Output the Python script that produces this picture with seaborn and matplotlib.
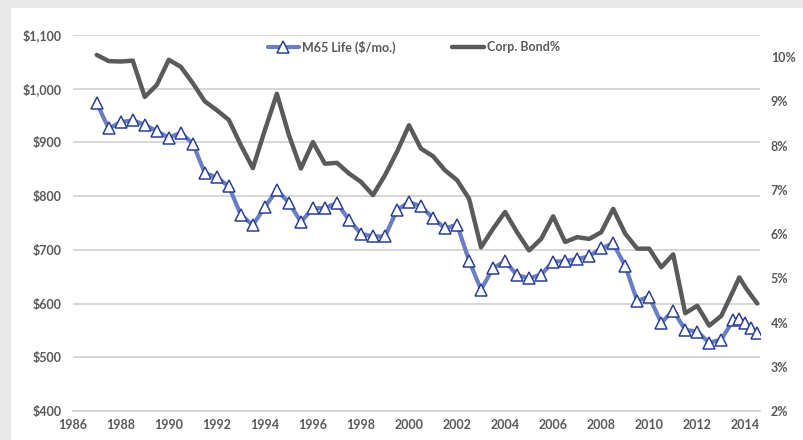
import matplotlib
matplotlib.use("Agg")
import matplotlib.pyplot as plt
import seaborn as sns
import pandas as pd
from matplotlib.patches import Rectangle
from matplotlib.ticker import FuncFormatter

# Полугодовые точки, в конце - поквартальные
years = [1987.0, 1987.5, 1988.0, 1988.5, 1989.0, 1989.5, 1990.0, 1990.5,
         1991.0, 1991.5, 1992.0, 1992.5, 1993.0, 1993.5, 1994.0, 1994.5,
         1995.0, 1995.5, 1996.0, 1996.5, 1997.0, 1997.5, 1998.0, 1998.5,
         1999.0, 1999.5, 2000.0, 2000.5, 2001.0, 2001.5, 2002.0, 2002.5,
         2003.0, 2003.5, 2004.0, 2004.5, 2005.0, 2005.5, 2006.0, 2006.5,
         2007.0, 2007.5, 2008.0, 2008.5, 2009.0, 2009.5, 2010.0, 2010.5,
         2011.0, 2011.5, 2012.0, 2012.5, 2013.0, 2013.5, 2013.75, 2014.0,
         2014.25, 2014.5]

# M65 Life ($/мес.)
m65_life = [973, 926, 938, 941, 933, 921, 909, 918,
            898, 843, 835, 818, 765, 746, 780, 811,
            788, 752, 777, 778, 787, 756, 730, 725,
            725, 774, 789, 781, 759, 740, 747, 680,
            626, 666, 679, 653, 647, 654, 678, 679,
            683, 688, 703, 712, 670, 605, 613, 564,
            587, 551, 548, 527, 533, 569, 571, 564,
            554, 545]

# Доходность корпоративных облигаций, %
corp_bond = [10.05, 9.91, 9.90, 9.92, 9.10, 9.37, 9.94, 9.78,
             9.41, 9.00, 8.80, 8.58, 8.01, 7.49, 8.35, 9.17,
             8.24, 7.48, 8.08, 7.59, 7.61, 7.37, 7.18, 6.88,
             7.33, 7.86, 8.46, 7.93, 7.76, 7.44, 7.22, 6.80,
             5.70, 6.12, 6.50, 6.04, 5.63, 5.89, 6.40, 5.82,
             5.93, 5.89, 6.04, 6.57, 6.01, 5.67, 5.67, 5.25,
             5.54, 4.21, 4.38, 3.93, 4.15, 4.72, 5.02, 4.80,
             4.61, 4.43]

year_ticks = list(range(1986, 2015, 2))
dollar_ticks = [400, 500, 600, 700, 800, 900, 1000, 1100]
pct_ticks = [2, 3, 4, 5, 6, 7, 8, 9, 10]

df = pd.DataFrame({'year': years, 'm65': m65_life, 'bond': corp_bond})

sns.set_theme(style="white")
plt.rcParams['font.family'] = ['Lato', 'DejaVu Sans']

text_color = '#595959'
grid_color = '#d0d0d0'

fig = plt.figure(figsize=(8.04, 4.40), dpi=100)
fig.patch.set_facecolor('#e8e8e8')
# белая подложка графика
fig.patches.append(Rectangle((11 / 804, 0), 1, 1 - 8 / 440, transform=fig.transFigure,
                             facecolor='white', edgecolor='none', zorder=-1))

ax = fig.add_axes([72.7 / 804, 1 - 411 / 440, (759.7 - 72.7) / 804, (411 - 35) / 440])
ax.set_facecolor('none')
ax2 = ax.twinx()

sns.lineplot(data=df, x='year', y='m65', ax=ax, color='#6a7ec2', linewidth=3.0,
             marker='^', markersize=8.5, markerfacecolor='white',
             markeredgecolor='#2b3f98', markeredgewidth=1.1,
             label='M65 Life ($/mo.)', legend=False, zorder=3)
sns.lineplot(data=df, x='year', y='bond', ax=ax2, color='#5a5a5a', linewidth=3.2,
             label='Corp. Bond%', legend=False)

# оси
ax.set_xlim(1986, 2014.6)
ax.set_ylim(400, 1100)
ax2.set_ylim(2, 10.5)
ax.set_xticks(year_ticks)
ax.set_yticks(dollar_ticks)
ax2.set_yticks(pct_ticks)
ax.yaxis.set_major_formatter(FuncFormatter(lambda v, p: f"${int(v):,}"))
ax2.yaxis.set_major_formatter(FuncFormatter(lambda v, p: f"{int(v)}%"))
ax.set_xlabel('')
ax.set_ylabel('')
ax2.set_ylabel('')

ax.grid(axis='y', color=grid_color, linewidth=1.2)
ax.grid(axis='x', visible=False)
ax2.grid(False)
ax.set_axisbelow(True)

for a in (ax, ax2):
    for s in a.spines.values():
        s.set_visible(False)
ax.spines['bottom'].set_visible(True)
ax.spines['bottom'].set_color(grid_color)
ax.spines['bottom'].set_linewidth(1.2)

ax.tick_params(axis='x', colors=grid_color, length=3, width=1, pad=3,
               labelcolor=text_color, labelsize=9)
ax.tick_params(axis='y', length=0, pad=8, labelcolor=text_color, labelsize=9)
ax2.tick_params(axis='y', length=0, pad=8, labelcolor=text_color, labelsize=9)
for lab in ax.get_xticklabels() + ax.get_yticklabels() + ax2.get_yticklabels():
    lab.set_fontweight('bold')

# легенда из обеих осей
h1, l1 = ax.get_legend_handles_labels()
h2, l2 = ax2.get_legend_handles_labels()
leg = fig.legend(h1 + h2, l1 + l2, loc='center', bbox_to_anchor=(414 / 804, 1 - 47 / 440),
                 ncol=2, frameon=False, fontsize=9, handlelength=2.5,
                 handletextpad=0.3, columnspacing=4.5)
for t in leg.get_texts():
    t.set_color(text_color)
    t.set_fontweight('bold')

fig.savefig('out.png', dpi=100)
